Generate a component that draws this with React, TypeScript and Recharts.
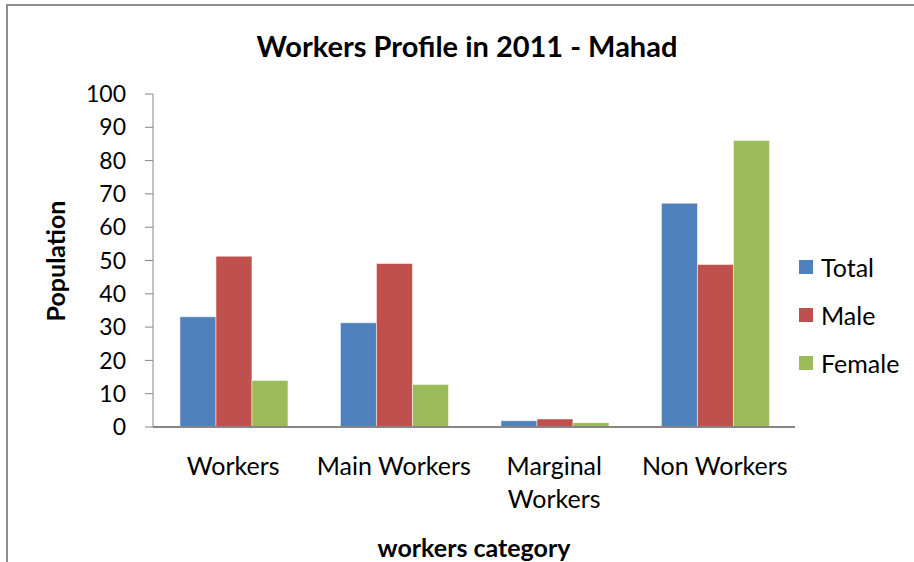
import { BarChart, Bar, XAxis, YAxis } from "recharts";

const categories = ["Workers", "Main Workers", "Marginal\nWorkers", "Non Workers"];
const totalValues = [33.1, 31.3, 1.9, 67.2];
const maleValues = [51.3, 49.1, 2.4, 48.8];
const femaleValues = [14.0, 12.8, 1.3, 86.0];
const yTicks = [0, 10, 20, 30, 40, 50, 60, 70, 80, 90, 100];

const seriesNames = ["Total", "Male", "Female"];
const seriesKeys = ["total", "male", "female"];
const seriesColors = ["#4F81BD", "#C0504D", "#9BBB59"];

const data = categories.map((name, i) => ({
  name,
  total: totalValues[i],
  male: maleValues[i],
  female: femaleValues[i],
}));

const FONT = "Lato, 'Noto Sans', sans-serif";

function CategoryTick({ x, y, payload }: any) {
  const lines = String(payload.value).split("\n");
  return (
    <text x={x} y={y} textAnchor="middle" fill="#000" fontSize={25} fontFamily={FONT}>
      {lines.map((l, i) => (
        <tspan key={i} x={x} dy={i === 0 ? 40 : 33}>
          {l}
        </tspan>
      ))}
    </text>
  );
}

export default function App() {
  return (
    <div
      style={{
        position: "absolute",
        left: 0,
        top: 0,
        width: 914,
        height: 562,
        overflow: "hidden",
        background: "#fff",
        fontFamily: FONT,
      }}
    >
      {/* outer chart frame, runs off the right and bottom */}
      <div
        style={{
          position: "absolute",
          left: 6,
          top: 4,
          width: 1200,
          height: 1200,
          border: "2px solid #8f8f8f",
        }}
      />
      <div
        style={{
          position: "absolute",
          left: 0,
          width: 934,
          top: 28,
          textAlign: "center",
          fontSize: 29,
          fontWeight: 700,
          color: "#000",
        }}
      >
        Workers Profile in 2011 - Mahad
      </div>
      <div
        style={{
          position: "absolute",
          left: 55,
          top: 261,
          transform: "translate(-50%, -50%) rotate(-90deg)",
          fontSize: 25,
          fontWeight: 700,
          whiteSpace: "nowrap",
        }}
      >
        Population
      </div>
      <div
        style={{
          position: "absolute",
          left: 474,
          top: 547,
          transform: "translate(-50%, -50%)",
          fontSize: 25,
          fontWeight: 700,
          whiteSpace: "nowrap",
        }}
      >
        workers category
      </div>

      <div style={{ position: "absolute", left: 0, top: 0 }}>
        <BarChart
          width={914}
          height={562}
          data={data}
          margin={{ top: 94, right: 119, bottom: 0, left: 0 }}
          barCategoryGap="16.8%"
          barGap={0}
        >
          <XAxis
            dataKey="name"
            height={135}
            interval={0}
            tickLine={false}
            axisLine={{ stroke: "#868686", strokeWidth: 2 }}
            tick={<CategoryTick />}
          />
          <YAxis
            width={153}
            domain={[0, 100]}
            ticks={yTicks}
            interval={0}
            tickSize={8}
            tickMargin={19}
            axisLine={{ stroke: "#868686" }}
            tickLine={{ stroke: "#868686" }}
            tick={{ fill: "#000", fontSize: 23, fontFamily: FONT }}
          />
          {seriesKeys.map((k, i) => (
            <Bar
              key={k}
              dataKey={k}
              name={seriesNames[i]}
              fill={seriesColors[i]}
              stroke="#ffffff"
              strokeOpacity={0.5}
              strokeWidth={1}
              isAnimationActive={false}
            />
          ))}
        </BarChart>
      </div>

      {/* legend */}
      <div style={{ position: "absolute", left: 799, top: 243 }}>
        {seriesNames.map((n, i) => (
          <div
            key={n}
            style={{ display: "flex", alignItems: "center", height: 48, fontSize: 25 }}
          >
            <span
              style={{
                display: "inline-block",
                width: 14,
                height: 14,
                background: seriesColors[i],
                marginRight: 8,
              }}
            />
            {n}
          </div>
        ))}
      </div>
    </div>
  );
}
